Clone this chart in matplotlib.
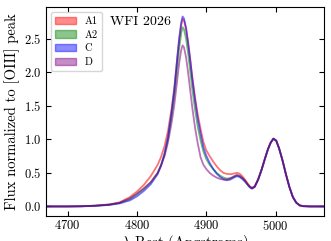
import matplotlib
matplotlib.use("Agg")
import matplotlib.pyplot as plt
from matplotlib.patches import Patch

plt.rcParams['font.family'] = 'serif'
plt.rcParams['font.serif'] = ['cmr10']
plt.rcParams['mathtext.fontset'] = 'cm'
plt.rcParams['axes.formatter.use_mathtext'] = True
plt.rcParams['axes.unicode_minus'] = False

# rest wavelength grid (Angstroms)
lam = [4670, 4700, 4720, 4740, 4760, 4775, 4790, 4800, 4810, 4820,
       4830, 4835, 4840, 4845, 4850, 4854, 4858, 4861, 4864, 4866,
       4868, 4871, 4874, 4877, 4880, 4884, 4888, 4892, 4896, 4900,
       4905, 4910, 4915, 4920, 4925, 4930, 4935, 4940, 4944, 4948,
       4952, 4956, 4960, 4963, 4966, 4970, 4975, 4980, 4985, 4989,
       4993, 4997, 5001, 5005, 5010, 5015, 5020, 5025, 5030, 5035,
       5040, 5050, 5070]

# flux normalized to [OIII] peak, one list per image
flux_a1 = [0.0, 0.0, 0.003, 0.012, 0.03, 0.06, 0.14, 0.22, 0.32, 0.45,
           0.62, 0.74, 0.90, 1.13, 1.45, 1.77, 2.17, 2.47, 2.70, 2.79,
           2.77, 2.64, 2.43, 2.19, 1.93, 1.62, 1.36, 1.15, 0.96, 0.84,
           0.75, 0.67, 0.60, 0.54, 0.50, 0.485, 0.48, 0.49, 0.50, 0.49,
           0.45, 0.40, 0.34, 0.30, 0.28, 0.30, 0.41, 0.55, 0.72, 0.85,
           0.95, 1.01, 0.98, 0.87, 0.69, 0.48, 0.29, 0.14, 0.055, 0.015,
           0.004, 0.0, 0.0]
flux_a2 = [0.0, 0.0, 0.002, 0.01, 0.025, 0.05, 0.11, 0.18, 0.26, 0.36,
           0.50, 0.62, 0.78, 1.01, 1.34, 1.66, 2.06, 2.35, 2.58, 2.67,
           2.64, 2.50, 2.28, 2.02, 1.75, 1.44, 1.18, 0.98, 0.82, 0.71,
           0.62, 0.56, 0.50, 0.46, 0.43, 0.415, 0.42, 0.44, 0.46, 0.45,
           0.42, 0.38, 0.325, 0.29, 0.27, 0.295, 0.40, 0.55, 0.72, 0.85,
           0.95, 1.01, 0.98, 0.87, 0.69, 0.48, 0.29, 0.14, 0.055, 0.015,
           0.004, 0.0, 0.0]
flux_c = [0.0, 0.0, 0.002, 0.008, 0.022, 0.045, 0.09, 0.15, 0.23, 0.33,
          0.48, 0.61, 0.79, 1.04, 1.40, 1.73, 2.19, 2.50, 2.74, 2.83,
          2.80, 2.66, 2.44, 2.18, 1.90, 1.58, 1.30, 1.08, 0.88, 0.76,
          0.65, 0.56, 0.49, 0.44, 0.405, 0.39, 0.40, 0.43, 0.45, 0.44,
          0.41, 0.37, 0.32, 0.285, 0.265, 0.29, 0.40, 0.55, 0.72, 0.85,
          0.95, 1.01, 0.98, 0.87, 0.69, 0.48, 0.29, 0.14, 0.055, 0.015,
          0.004, 0.0, 0.0]
flux_d = [0.0, 0.0, 0.003, 0.012, 0.028, 0.055, 0.12, 0.19, 0.27, 0.36,
          0.50, 0.61, 0.75, 0.96, 1.24, 1.51, 1.86, 2.13, 2.33, 2.40,
          2.37, 2.22, 1.99, 1.73, 1.47, 1.17, 0.93, 0.73, 0.62, 0.56,
          0.50, 0.46, 0.43, 0.41, 0.40, 0.40, 0.42, 0.45, 0.47, 0.46,
          0.43, 0.385, 0.325, 0.29, 0.27, 0.295, 0.40, 0.55, 0.72, 0.85,
          0.95, 1.01, 0.98, 0.87, 0.69, 0.48, 0.29, 0.14, 0.055, 0.015,
          0.004, 0.0, 0.0]

names = ['A1', 'A2', 'C', 'D']
colors = ['red', 'green', 'blue', 'purple']
series = [flux_a1, flux_a2, flux_c, flux_d]

fig = plt.figure(figsize=(3.31, 2.41), dpi=100)
ax = fig.add_axes([0.139, 0.104, 0.840, 0.867])

for flux, c in zip(series, colors):
    ax.plot(lam, flux, color=c, alpha=0.55, lw=1.3)

ax.set_xlim(4669, 5070)
ax.set_xticks([4700, 4800, 4900, 5000])
ax.set_yticks([0.0, 0.5, 1.0, 1.5, 2.0, 2.5])
ax.tick_params(direction='in', top=True, right=True, labelsize=9)
ax.tick_params(axis='x', pad=2)
ax.set_xlabel(r'$\lambda$ Rest (Angstroms)', fontsize=10.5, labelpad=0)
ax.set_ylabel('Flux normalized to [OIII] peak', fontsize=10.5, labelpad=3)

ax.text(4761, 2.71, 'WFI 2026', fontsize=10, va='baseline')

handles = [Patch(color=c, alpha=0.45, label=n) for n, c in zip(names, colors)]
ax.legend(handles=handles, loc='upper left', fontsize=7.5, labelspacing=0.4)

fig.savefig('out.png', dpi=100)
